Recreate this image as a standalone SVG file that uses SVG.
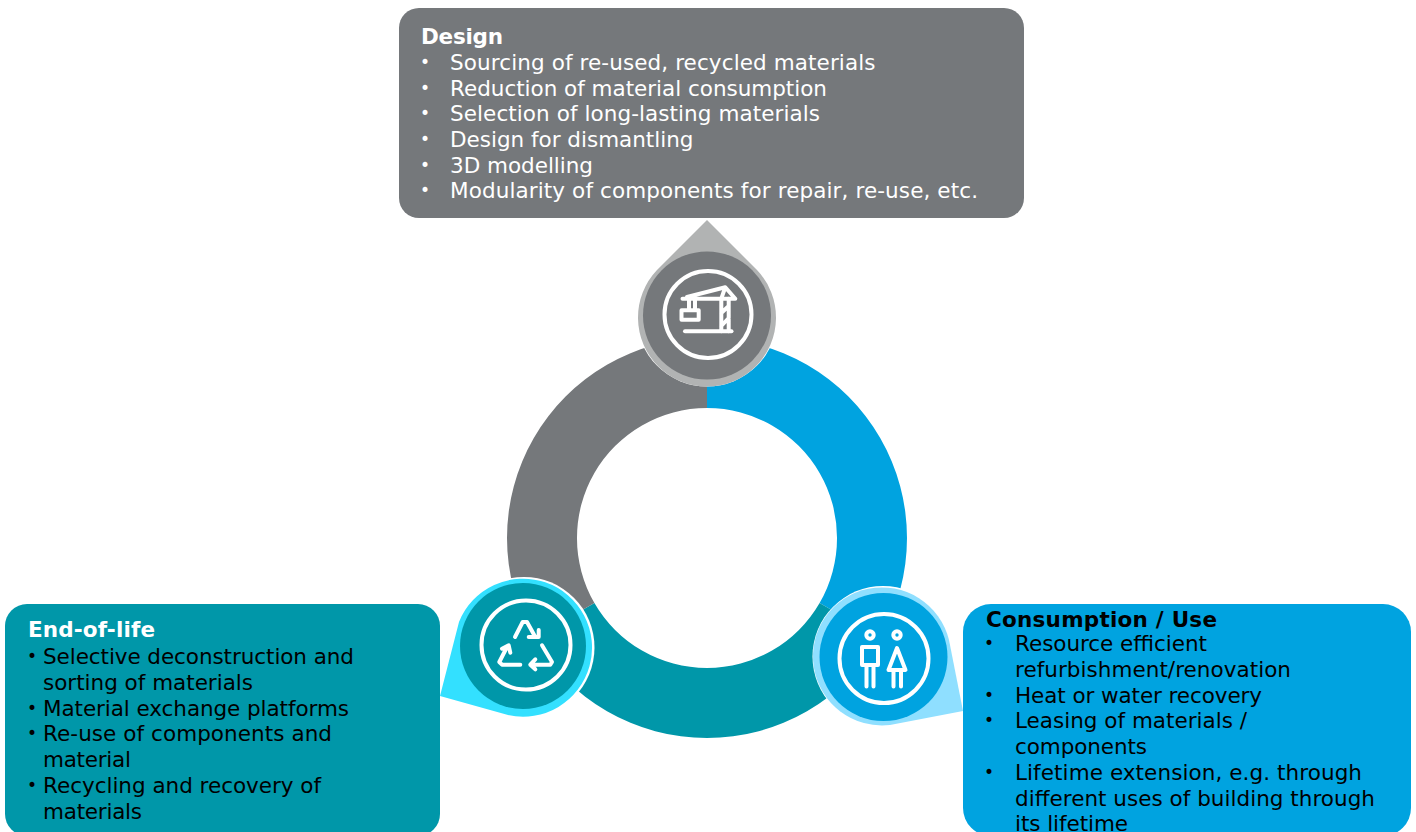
<svg xmlns="http://www.w3.org/2000/svg" width="1416" height="832" viewBox="0 0 1416 832">
<style>
text{font-family:"DejaVu Sans",Verdana,sans-serif;font-size:21.5px}
.w{fill:#fff}.k{fill:#000}.b{font-weight:700}
text.d{font-size:17px}
.ic{fill:none;stroke:#fff;stroke-width:4;stroke-linecap:round;stroke-linejoin:round}
.rg{fill:none;stroke:#fff;stroke-width:4}
</style>
<rect width="1416" height="832" fill="#fff"/>
<g id="ring">
<path d="M707 338A200 200 0 0 1 880.200 638L819.600 603A130 130 0 0 0 707 408Z" fill="#00a3e0"/>
<path d="M880.200 638A200 200 0 0 1 533.800 638L594.400 603A130 130 0 0 0 819.600 603Z" fill="#0097a9"/>
<path d="M533.800 638A200 200 0 0 1 707 338V408A130 130 0 0 0 594.400 603Z" fill="#75787b"/>
</g>
<g id="design">
<rect x="399" y="8" width="625" height="210" rx="20" fill="#75787b"/>
<text class="w b" x="421" y="44" textLength="82">Design</text>
<g class="w">
<text class="d" x="420" y="68">•</text><text x="450" y="70" textLength="425.500">Sourcing of re-used, recycled materials</text>
<text class="d" x="420" y="94">•</text><text x="450" y="96" textLength="377">Reduction of material consumption</text>
<text class="d" x="420" y="119">•</text><text x="450" y="121" textLength="370">Selection of long-lasting materials</text>
<text class="d" x="420" y="145">•</text><text x="450" y="147" textLength="243.500">Design for dismantling</text>
<text class="d" x="420" y="171">•</text><text x="450" y="173" textLength="143">3D modelling</text>
<text class="d" x="420" y="196">•</text><text x="450" y="198" textLength="528">Modularity of components for repair, re-use, etc.</text>
</g>
</g>
<g id="end-of-life">
<rect x="5" y="604" width="435" height="232" rx="22" fill="#0097a9"/>
<text class="w b" x="28" y="637" textLength="127">End-of-life</text>
<g class="k">
<text class="d" x="27" y="662">•</text><text x="43" y="664" textLength="311">Selective deconstruction and</text>
<text x="43" y="690" textLength="210">sorting of materials</text>
<text class="d" x="27" y="714">•</text><text x="43" y="716" textLength="306">Material exchange platforms</text>
<text class="d" x="27" y="739">•</text><text x="43" y="741" textLength="289">Re-use of components and</text>
<text x="43" y="767" textLength="88">material</text>
<text class="d" x="27" y="791">•</text><text x="43" y="793" textLength="278">Recycling and recovery of</text>
<text x="43" y="819" textLength="99">materials</text>
</g>
</g>
<g id="consumption">
<rect x="963" y="604" width="448" height="232" rx="28" fill="#00a3e0"/>
<text class="k b" x="986" y="627" textLength="231">Consumption / Use</text>
<g class="k">
<text class="d" x="984" y="649">•</text><text x="1015" y="651" textLength="192">Resource efficient</text>
<text x="1015" y="677" textLength="276">refurbishment/renovation</text>
<text class="d" x="984" y="701">•</text><text x="1015" y="703" textLength="247">Heat or water recovery</text>
<text class="d" x="984" y="726">•</text><text x="1015" y="728" textLength="232">Leasing of materials /</text>
<text x="1015" y="754" textLength="132">components</text>
<text class="d" x="984" y="778">•</text><text x="1015" y="780" textLength="347">Lifetime extension, e.g. through</text>
<text x="1015" y="806" textLength="360">different uses of building through</text>
<text x="1015" y="831" textLength="113">its lifetime</text>
</g>
</g>
<g id="crane-node">
<circle cx="707" cy="316" r="70.500" fill="#fff"/>
<path d="M707 220L757 270A69 69 0 1 1 657 270Z" fill="#b1b3b3"/>
<circle cx="707" cy="315.500" r="64" fill="#75787b"/>
<circle class="rg" cx="708" cy="314.500" r="43.500"/>
<g class="ic">
<path d="M682.500 298.700H735.300L725.300 287.300L687 297"/>
<path d="M725 288L721.300 298.700V331.300M728.700 298.700V331.300M721.300 313L728.700 306M721.300 326L728.700 318"/>
<path d="M689 298.700V310.300M695 298.700V310.300M681.500 310.300H698.700V319.700H681.500Z"/>
<path d="M685 331.300H731.500"/>
</g>
</g>
<g id="recycle-node">
<circle cx="524" cy="647.500" r="70.500" fill="#fff"/>
<path d="M440 696L459 622A69 69 0 1 1 508 715Z" fill="#33e0ff"/>
<circle cx="523" cy="646" r="63" fill="#0097a9"/>
<circle class="rg" cx="526" cy="645" r="44.500"/>
<g class="ic">
<path d="M515 637L522.700 622H527L535.300 637M528.700 637H538.700V630"/>
<path d="M542 645.300L552 662L550.300 664.700H530.300M535.300 659.300L530.300 664.700L535.300 669.300"/>
<path d="M520.300 664.700H502L499.300 662L507 647M502 648.700L508.700 645.300L510.300 652.700"/>
</g>
</g>
<g id="people-node">
<circle cx="883" cy="656.500" r="70.500" fill="#fff"/>
<path d="M963 711L890 725A69 69 0 1 1 949 640Z" fill="#8fdfff"/>
<circle cx="883.500" cy="657" r="64" fill="#00a3e0"/>
<circle class="rg" cx="884" cy="658.500" r="44.500"/>
<g class="ic">
<circle cx="870" cy="635" r="3.700"/><circle cx="897" cy="635" r="3.700"/>
<path d="M862 647H878V665H862ZM866.500 665V686.500M873.500 665V686.500"/>
<path d="M897 648L905.500 670H888.500ZM893.500 670V686.500M901 670V686.500"/>
</g>
</g>
</svg>
